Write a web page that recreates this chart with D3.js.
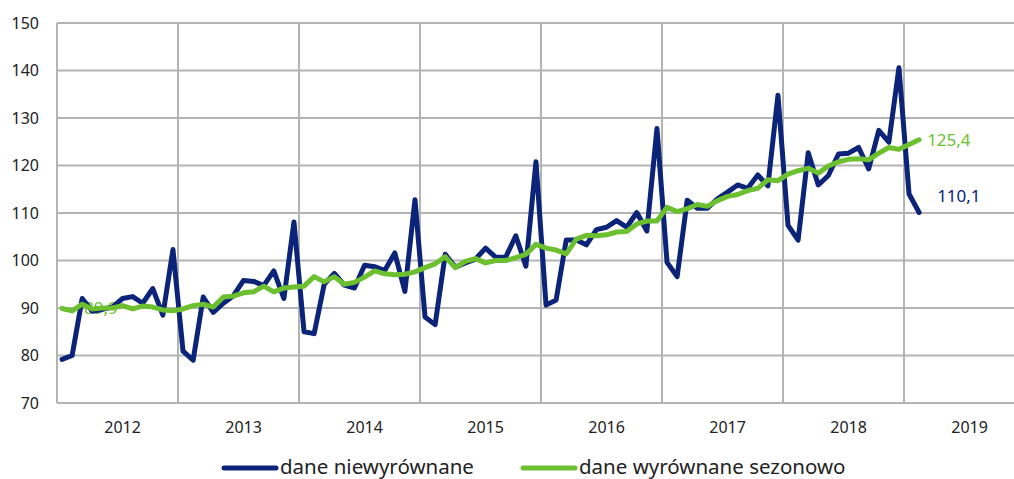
<!DOCTYPE html>
<html>
<head>
<meta charset="utf-8">
<script src="https://cdn.jsdelivr.net/npm/d3@7"></script>
<style>
  body { margin: 0; background: #fff; }
  svg { display: block; font-family: "Noto Sans", "Open Sans", sans-serif; }
</style>
</head>
<body>
<svg id="chart"></svg>
<script>
'use strict';

var years = ['2012', '2013', '2014', '2015', '2016', '2017', '2018', '2019'];
var yTicks = [70, 80, 90, 100, 110, 120, 130, 140, 150];

// dane niewyrownane, Jan 2012 .. Feb 2019
var unadjusted = [
  79.2, 80.0, 92.0, 89.3, 89.7, 90.2, 92.0, 92.4, 91.0, 94.1, 88.5, 102.3,
  80.9, 79.0, 92.3, 89.1, 91.0, 92.6, 95.8, 95.6, 94.7, 97.8, 92.0, 108.1,
  85.0, 84.6, 95.0, 97.3, 94.8, 94.2, 99.0, 98.7, 97.9, 101.6, 93.5, 112.8,
  88.1, 86.5, 101.3, 98.6, 99.5, 100.3, 102.6, 100.7, 100.7, 105.2, 98.8, 120.8,
  90.6, 91.7, 104.3, 104.3, 103.3, 106.5, 107.0, 108.4, 107.0, 110.1, 106.2, 127.8,
  99.6, 96.6, 112.7, 111.0, 111.0, 113.0, 114.4, 115.9, 115.2, 118.0, 115.7, 134.8,
  107.4, 104.3, 122.7, 115.9, 117.9, 122.4, 122.6, 123.8, 119.3, 127.4, 124.9, 140.6,
  114.0, 110.1
];

// dane wyrownane sezonowo
var adjusted = [
  89.9, 89.4, 90.8, 89.8, 90.0, 90.0, 90.5, 89.8, 90.4, 90.2, 89.6, 89.4,
  89.8, 90.5, 90.8, 90.2, 92.3, 92.5, 93.2, 93.4, 94.6, 93.4, 94.2, 94.4,
  94.6, 96.6, 95.5, 96.6, 95.0, 95.4, 96.5, 97.8, 97.2, 97.0, 97.1, 97.6,
  98.5, 99.3, 100.8, 98.5, 99.8, 100.4, 99.5, 100.0, 100.0, 100.6, 101.3, 103.4,
  102.6, 102.2, 101.4, 104.5, 105.3, 105.2, 105.4, 106.0, 106.1, 107.7, 108.3, 108.3,
  111.2, 110.3, 110.9, 111.8, 111.4, 112.6, 113.5, 113.9, 114.7, 115.2, 117.0, 116.8,
  118.2, 118.9, 119.4, 118.4, 119.9, 120.8, 121.3, 121.4, 121.2, 122.6, 123.8, 123.4,
  124.4, 125.4
];

var legendNames = ['dane niewyrównane', 'dane wyrównane sezonowo'];

var width = 1014, height = 479;
var blue = '#0b2378', green = '#6cbf2f', grid = '#b3b3b3';

var svg = d3.select('#chart')
  .attr('width', width)
  .attr('height', height);

// 12 categories per year, points in the middle of each month
var x = d3.scaleLinear()
  .domain([0, years.length * 12])
  .range([57, 1025]);

var y = d3.scaleLinear()
  .domain([70, 150])
  .range([403, 23]);

var g = svg.append('g');

// horizontal grid
g.selectAll('.hgrid')
  .data(yTicks)
  .enter().append('line')
  .attr('x1', x(0)).attr('x2', x(years.length * 12))
  .attr('y1', function (d) { return y(d); })
  .attr('y2', function (d) { return y(d); })
  .attr('stroke', grid)
  .attr('stroke-width', 2);

// vertical grid at year boundaries
g.selectAll('.vgrid')
  .data(d3.range(years.length + 1))
  .enter().append('line')
  .attr('x1', function (d) { return x(d * 12); })
  .attr('x2', function (d) { return x(d * 12); })
  .attr('y1', y(150)).attr('y2', y(70))
  .attr('stroke', grid)
  .attr('stroke-width', 2);

// y labels
g.selectAll('.ylab')
  .data(yTicks)
  .enter().append('text')
  .attr('x', 39)
  .attr('y', function (d) { return y(d); })
  .attr('dy', '0.35em')
  .attr('text-anchor', 'end')
  .attr('font-size', 16)
  .attr('fill', '#222')
  .text(function (d) { return d; });

// year labels, centred on July
g.selectAll('.xlab')
  .data(years)
  .enter().append('text')
  .attr('x', function (d, i) { return x(i * 12 + 6.5); })
  .attr('y', 433)
  .attr('text-anchor', 'middle')
  .attr('font-size', 16)
  .attr('fill', '#222')
  .text(function (d) { return d; });

// first value label sits under the lines
g.append('text')
  .attr('x', 84)
  .attr('y', y(adjusted[0]))
  .attr('dy', '0.35em')
  .attr('font-size', 17)
  .attr('fill', green)
  .text(String(adjusted[0]).replace('.', ','));

var line = d3.line()
  .x(function (d, i) { return x(i + 0.5); })
  .y(function (d) { return y(d); })
  .curve(d3.curveLinear);

g.append('path')
  .datum(unadjusted)
  .attr('d', line)
  .attr('fill', 'none')
  .attr('stroke', blue)
  .attr('stroke-width', 5)
  .attr('stroke-linejoin', 'round')
  .attr('stroke-linecap', 'round');

g.append('path')
  .datum(adjusted)
  .attr('d', line)
  .attr('fill', 'none')
  .attr('stroke', green)
  .attr('stroke-width', 5)
  .attr('stroke-linejoin', 'round')
  .attr('stroke-linecap', 'round');

// end labels
var last = unadjusted.length - 1;
g.append('text')
  .attr('x', x(last + 0.5) + 8)
  .attr('y', y(adjusted[last]))
  .attr('dy', '0.35em')
  .attr('font-size', 17)
  .attr('fill', green)
  .text(String(adjusted[last]).replace('.', ','));

g.append('text')
  .attr('x', x(last + 0.5) + 18)
  .attr('y', y(113.5))
  .attr('dy', '0.35em')
  .attr('font-size', 17)
  .attr('fill', blue)
  .text(String(unadjusted[last]).replace('.', ','));

// legend
var legend = svg.append('g');
var legendX = [224, 523];
legendNames.forEach(function (name, i) {
  legend.append('line')
    .attr('x1', legendX[i]).attr('x2', legendX[i] + 52)
    .attr('y1', 468).attr('y2', 468)
    .attr('stroke', i === 0 ? blue : green)
    .attr('stroke-width', 5)
    .attr('stroke-linecap', 'round');
  legend.append('text')
    .attr('x', legendX[i] + 56)
    .attr('y', 474)
    .attr('font-size', 20.5)
    .attr('fill', '#222')
    .text(name);
});
</script>
</body>
</html>
